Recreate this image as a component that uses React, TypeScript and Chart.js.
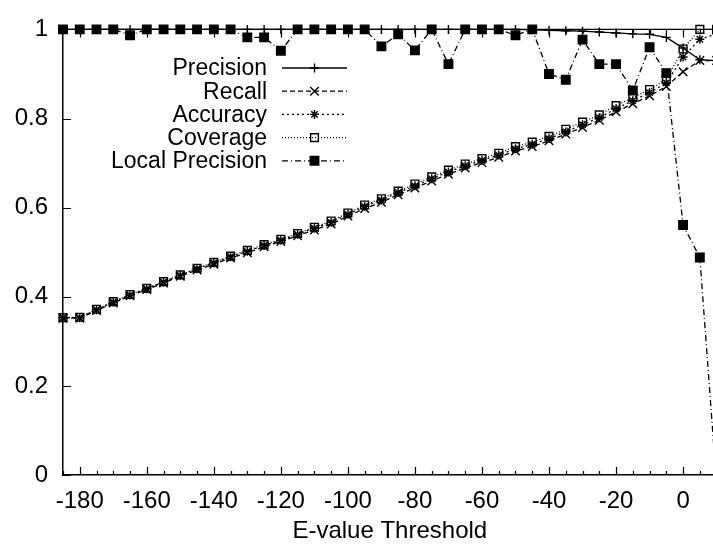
import React, { useEffect, useRef } from 'react';
import { Chart, registerables } from 'chart.js';

Chart.register(...registerables);

// ---------------- data ----------------
const thresholds = [
  -185, -180, -175, -170, -165, -160, -155, -150, -145, -140,
  -135, -130, -125, -120, -115, -110, -105, -100, -95, -90,
  -85, -80, -75, -70, -65, -60, -55, -50, -45, -40,
  -35, -30, -25, -20, -15, -10, -5, 0, 5, 10,
];

const precision = [
  1, 1, 1, 1, 1, 1, 1, 1, 1, 1,
  1, 1, 1, 1, 1, 1, 1, 1, 1, 1,
  1, 1, 1, 1, 1, 1, 1, 1, 0.999, 0.998,
  0.997, 0.996, 0.994, 0.992, 0.99, 0.989, 0.982, 0.958, 0.932, 0.93,
];

const recall = [
  0.352, 0.352, 0.369, 0.386, 0.402, 0.416, 0.431, 0.446, 0.46, 0.473,
  0.487, 0.499, 0.512, 0.524, 0.537, 0.55, 0.563, 0.581, 0.598, 0.612,
  0.629, 0.644, 0.66, 0.675, 0.689, 0.701, 0.713, 0.727, 0.737, 0.75,
  0.765, 0.78, 0.796, 0.815, 0.833, 0.851, 0.872, 0.905, 0.93, 0.93,
];

const accuracy = [
  0.353, 0.353, 0.371, 0.388, 0.404, 0.418, 0.433, 0.448, 0.463, 0.476,
  0.49, 0.502, 0.515, 0.527, 0.54, 0.554, 0.567, 0.585, 0.603, 0.617,
  0.634, 0.649, 0.665, 0.68, 0.694, 0.706, 0.718, 0.732, 0.742, 0.755,
  0.77, 0.786, 0.802, 0.822, 0.84, 0.858, 0.88, 0.938, 0.978, 0.99,
];

const coverage = [
  0.353, 0.354, 0.372, 0.389, 0.405, 0.419, 0.434, 0.449, 0.464, 0.477,
  0.491, 0.504, 0.517, 0.529, 0.542, 0.556, 0.57, 0.588, 0.606, 0.62,
  0.637, 0.653, 0.669, 0.684, 0.698, 0.71, 0.722, 0.737, 0.747, 0.76,
  0.776, 0.792, 0.808, 0.829, 0.847, 0.865, 0.888, 0.956, 1.0, 1.0,
];

const localPrecision = [
  1, 1, 1, 1, 0.987, 1, 1, 1, 1, 1,
  1, 0.982, 0.982, 0.952, 1, 1, 1, 1, 1, 0.962,
  0.989, 0.953, 1, 0.922, 1, 1, 1, 0.987, 1, 0.9,
  0.887, 0.977, 0.922, 0.922, 0.863, 0.96, 0.902, 0.561, 0.488, -0.02,
];

const seriesLabels = ['Precision', 'Recall', 'Accuracy', 'Coverage', 'Local Precision'];
const xTickValues = [-180, -160, -140, -120, -100, -80, -60, -40, -20, 0];
const yTickValues = [0, 0.2, 0.4, 0.6, 0.8, 1];
const yTickLabels = ['0', '0.2', '0.4', '0.6', '0.8', '1'];

const FONT = '"Liberation Sans", Arial, Helvetica, sans-serif';

// ---------------- helpers ----------------
function drawMarker(ctx: CanvasRenderingContext2D, style: string, x: number, y: number, r: number, fill: string) {
  ctx.beginPath();
  if (style === 'cross') {
    ctx.moveTo(x - r, y); ctx.lineTo(x + r, y);
    ctx.moveTo(x, y - r); ctx.lineTo(x, y + r);
    ctx.stroke();
  } else if (style === 'crossRot') {
    const d = r * Math.SQRT1_2;
    ctx.moveTo(x - d, y - d); ctx.lineTo(x + d, y + d);
    ctx.moveTo(x - d, y + d); ctx.lineTo(x + d, y - d);
    ctx.stroke();
  } else if (style === 'star') {
    const d = r * Math.SQRT1_2;
    ctx.moveTo(x - r, y); ctx.lineTo(x + r, y);
    ctx.moveTo(x, y - r); ctx.lineTo(x, y + r);
    ctx.moveTo(x - d, y - d); ctx.lineTo(x + d, y + d);
    ctx.moveTo(x - d, y + d); ctx.lineTo(x + d, y - d);
    ctx.stroke();
  } else if (style === 'rect') {
    const s = r * Math.SQRT1_2;
    ctx.rect(x - s, y - s, 2 * s, 2 * s);
    if (fill && fill !== 'transparent') { ctx.fillStyle = fill; ctx.fill(); }
    ctx.stroke();
  }
}

const frameTicksPlugin = {
  id: 'frameTicks',
  beforeDatasetsDraw(chart: any) {
    const { ctx, chartArea, scales } = chart;
    const { left, right, top, bottom } = chartArea;
    const x = scales.x;
    const y = scales.y;
    ctx.save();
    ctx.strokeStyle = '#000';
    ctx.lineWidth = 1.4;
    ctx.setLineDash([]);
    ctx.beginPath();
    ctx.moveTo(left, top);
    ctx.lineTo(right, top);
    ctx.stroke();
    ctx.lineWidth = 1.2;
    ctx.beginPath();
    thresholds.forEach((v) => {
      const px = Math.round(x.getPixelForValue(v)) + 0.5;
      const len = xTickValues.includes(v) ? 8 : 4;
      ctx.moveTo(px, bottom);
      ctx.lineTo(px, bottom - len);
      ctx.moveTo(px, top);
      ctx.lineTo(px, top + len);
    });
    yTickValues.forEach((v) => {
      const py = Math.round(y.getPixelForValue(v)) + 0.5;
      ctx.moveTo(left, py);
      ctx.lineTo(left + 8, py);
    });
    ctx.stroke();
    ctx.restore();
  },
};

const LEGEND_TEXT_X = 267;
const LEGEND_Y0 = 68;
const LEGEND_STEP = 23.2;
const LEGEND_LINE_X0 = 282;
const LEGEND_LINE_X1 = 347;

const legendPlugin = {
  id: 'gnuLegend',
  afterDraw(chart: any) {
    const ctx: CanvasRenderingContext2D = chart.ctx;
    ctx.save();
    ctx.font = `23px ${FONT}`;
    ctx.textAlign = 'right';
    ctx.textBaseline = 'middle';
    chart.data.datasets.forEach((ds: any, i: number) => {
      const y = LEGEND_Y0 + i * LEGEND_STEP;
      ctx.fillStyle = '#000';
      ctx.fillText(ds.label, LEGEND_TEXT_X, y + 1);
      ctx.strokeStyle = '#000';
      ctx.lineWidth = ds.borderWidth;
      ctx.setLineDash(ds.borderDash || []);
      ctx.beginPath();
      ctx.moveTo(LEGEND_LINE_X0, y);
      ctx.lineTo(LEGEND_LINE_X1, y);
      ctx.stroke();
      ctx.setLineDash([]);
      ctx.lineWidth = ds.pointBorderWidth;
      drawMarker(ctx, ds.pointStyle, (LEGEND_LINE_X0 + LEGEND_LINE_X1) / 2, y, ds.pointRadius, ds.pointBackgroundColor);
    });
    ctx.restore();
  },
};

function toPoints(values: number[]) {
  return thresholds.map((t, i) => ({ x: t, y: values[i] }));
}

export default function App() {
  const canvasRef = useRef<HTMLCanvasElement | null>(null);

  useEffect(() => {
    if (!canvasRef.current) return;
    Chart.defaults.font.family = FONT;
    const clip = { left: 10, top: 10, right: 0, bottom: 0 };
    const common = {
      borderColor: '#000',
      pointBorderColor: '#000',
      borderWidth: 1.3,
      pointBorderWidth: 1.4,
      tension: 0,
      clip,
    };
    const chart = new Chart(canvasRef.current, {
      type: 'line',
      data: {
        datasets: [
          {
            ...common,
            label: seriesLabels[0],
            data: toPoints(precision),
            borderDash: [],
            pointStyle: 'cross',
            pointRadius: 4.5,
            pointBackgroundColor: 'transparent',
          },
          {
            ...common,
            label: seriesLabels[1],
            data: toPoints(recall),
            borderDash: [5, 3],
            pointStyle: 'crossRot',
            pointRadius: 6,
            pointBackgroundColor: 'transparent',
          },
          {
            ...common,
            label: seriesLabels[2],
            data: toPoints(accuracy),
            borderDash: [2, 3],
            pointStyle: 'star',
            pointRadius: 4.5,
            pointBackgroundColor: 'transparent',
          },
          {
            ...common,
            label: seriesLabels[3],
            data: toPoints(coverage),
            borderDash: [1, 2],
            pointStyle: 'rect',
            pointRadius: 5.5,
            pointBackgroundColor: 'transparent',
          },
          {
            ...common,
            label: seriesLabels[4],
            data: toPoints(localPrecision),
            borderDash: [6, 3, 1, 3],
            pointStyle: 'rect',
            pointRadius: 6,
            pointBackgroundColor: '#000',
          },
        ] as any,
      },
      options: {
        animation: false,
        responsive: false,
        devicePixelRatio: 1,
        layout: { padding: { left: 0, right: 7, top: 22, bottom: 0 } },
        plugins: {
          legend: { display: false },
          tooltip: { enabled: false },
        },
        scales: {
          x: {
            type: 'linear',
            min: -185,
            max: 10,
            grid: { display: false, drawTicks: false },
            border: { display: true, color: '#000', width: 1.5 },
            afterBuildTicks: (s: any) => {
              s.ticks = xTickValues.map((v) => ({ value: v }));
            },
            afterFit: (s: any) => {
              s.height = 76;
            },
            ticks: {
              color: '#000',
              font: { size: 24, family: FONT },
              padding: 12,
              maxRotation: 0,
              autoSkip: false,
              callback: (v: any) => String(v),
            },
            title: {
              display: true,
              text: 'E-value Threshold',
              color: '#000',
              font: { size: 24, family: FONT },
              padding: { top: 0, bottom: 5 },
            },
          },
          y: {
            type: 'linear',
            min: 0,
            max: 1,
            grid: { display: false, drawTicks: false },
            border: { display: true, color: '#000', width: 1.5 },
            afterBuildTicks: (s: any) => {
              s.ticks = yTickValues.map((v) => ({ value: v }));
            },
            afterFit: (s: any) => {
              s.width = 63;
            },
            ticks: {
              color: '#000',
              font: { size: 24, family: FONT },
              padding: 15,
              callback: (v: any) => {
                const idx = yTickValues.indexOf(v);
                return idx >= 0 ? yTickLabels[idx] : String(v);
              },
            },
          },
        },
      } as any,
      plugins: [frameTicksPlugin, legendPlugin],
    });
    return () => chart.destroy();
  }, []);

  return (
    <div
      style={{
        position: 'fixed',
        left: 0,
        top: 0,
        width: 713,
        height: 551,
        overflow: 'hidden',
        background: '#fff',
      }}
    >
      <canvas ref={canvasRef} width={724} height={551} style={{ display: 'block', width: 724, height: 551 }} />
    </div>
  );
}
